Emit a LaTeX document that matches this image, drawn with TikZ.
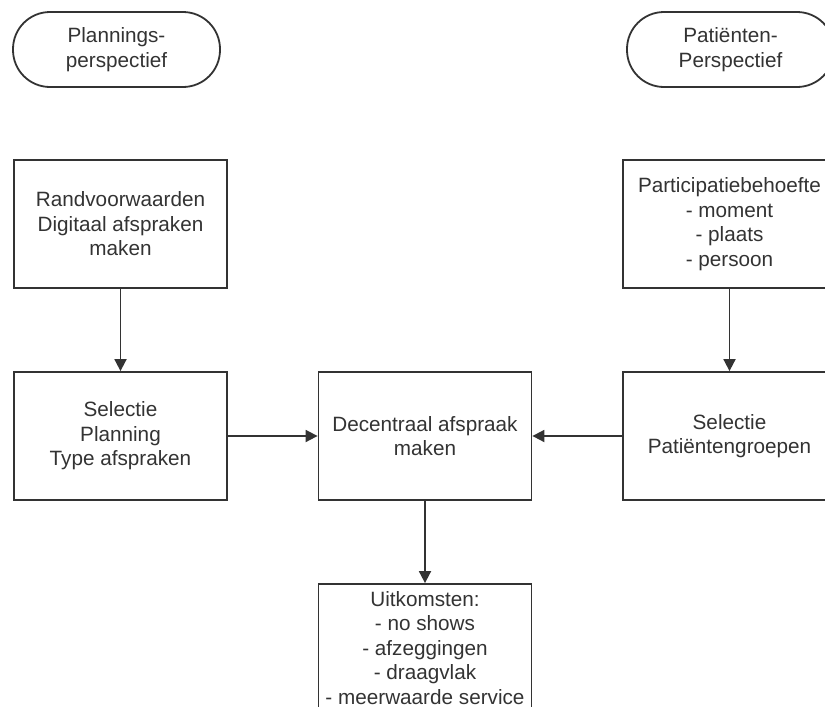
\documentclass[tikz,border=0pt]{standalone}
\usepackage{fontspec}
\setmainfont{Liberation Sans}
\usetikzlibrary{arrows.meta}
\definecolor{linec}{HTML}{333333}
\definecolor{textc}{HTML}{333333}
\tikzset{
  base/.style={draw=linec, line width=1.8pt, fill=white, align=center,
    text=textc, font=\fontsize{20.7pt}{24.5pt}\selectfont, inner sep=0pt},
  term/.style={base, rectangle, rounded corners=37pt, minimum width=207pt, minimum height=75pt},
  procbox/.style={base, rectangle, minimum width=213pt, minimum height=128pt},
  conn/.style={draw=linec, line width=1.8pt, -{Triangle[length=12pt,width=12pt]}}
}
\begin{document}
\begin{tikzpicture}
\useasboundingbox (0pt,0pt) rectangle (825pt,-707pt);
\clip (0pt,0pt) rectangle (825pt,-707pt);
\node[term] (t1) at (116.5pt,-49.5pt) {Plannings-\\perspectief};
\node[term] (t2) at (730.5pt,-49.5pt) {Patiënten-\\Perspectief};
\node[procbox] (a) at (120.5pt,-224pt) {Randvoorwaarden\\Digitaal afspraken\\maken};
\node[procbox] (b) at (729.5pt,-224pt) {Participatiebehoefte\\- moment\\- plaats\\- persoon};
\node[procbox] (c) at (120.5pt,-436pt) {Selectie\\Planning\\Type afspraken};
\node[procbox] (d) at (425pt,-436pt) {Decentraal afspraak\\maken};
\node[procbox] (e) at (729.5pt,-436pt) {Selectie\\Patiëntengroepen};
\node[procbox] (f) at (425pt,-648pt) {Uitkomsten:\\- no shows\\- afzeggingen\\- draagvlak\\- meerwaarde service};
\draw[conn] (a) -- (c);
\draw[conn] (b) -- (e);
\draw[conn] (c) -- (d);
\draw[conn] (e) -- (d);
\draw[conn] (d) -- (f);
\end{tikzpicture}
\end{document}
